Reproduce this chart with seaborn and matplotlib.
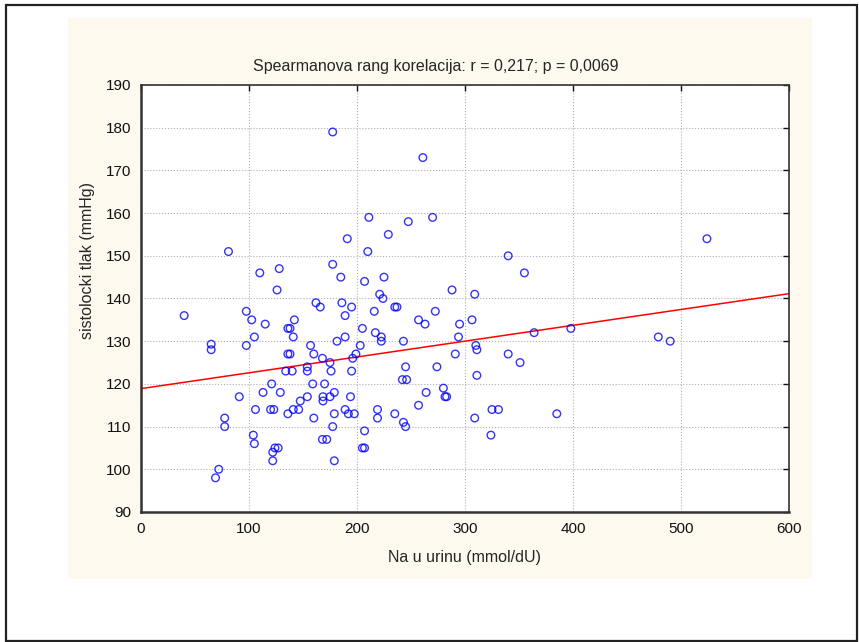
import numpy as np
import pandas as pd
import matplotlib
matplotlib.use('Agg')
import matplotlib.pyplot as plt
from matplotlib.patches import Rectangle
import seaborn as sns

# Na u urinu (mmol/dU)
na_urin = [40, 65, 65, 69, 72, 77.5, 77.5, 81, 91, 97.5, 102.5, 97.5, 105, 115,
           136, 138, 142, 141, 136, 138, 134, 140, 154, 154, 157, 160, 168, 175,
           176, 162, 166, 186, 189, 181.5, 189, 121, 113, 129, 106, 120, 123, 136,
           141, 146, 147.5, 154, 159, 170, 168.5, 168.5, 175, 179, 160, 179, 177.5,
           189, 104, 105, 122, 124, 127, 122, 168, 172, 179, 177.5, 191, 110, 128,
           177.5, 185, 126, 261, 211, 247.5, 270, 229, 210, 340, 355, 207, 225, 288,
           309, 221, 224, 195, 216, 235, 237, 272.5, 257, 263, 295, 306.5, 294, 205,
           217, 222.5, 222.5, 243, 203, 199, 196, 195, 245, 274, 242, 246, 291, 310,
           311, 311, 340, 351, 364, 264, 280, 281.5, 283, 257, 194, 192, 197.5, 219,
           219, 235, 243, 245, 207, 205, 207, 309, 325, 331, 324, 385, 398, 479, 490,
           524]
# sistolicki tlak (mmHg)
tlak = [136, 129.3, 128, 98, 100, 112, 110, 151, 117, 137, 135, 129, 131, 134,
        133, 133, 135, 131, 127, 127, 123, 123, 124, 123, 129, 127, 126, 125,
        123, 139, 138, 139, 136, 130, 131, 120, 118, 118, 114, 114, 114, 113,
        114, 114, 116, 117, 120, 120, 117, 116, 117, 118, 112, 113, 110,
        114, 108, 106, 104, 105, 105, 102, 107, 107, 102, 179, 154, 146, 147,
        148, 145, 142, 173, 159, 158, 159, 155, 151, 150, 146, 144, 145, 142,
        141, 141, 140, 138, 137, 138, 138, 137, 135, 134, 134, 135, 131, 133,
        132, 131, 130, 130, 129, 127, 126, 123, 124, 124, 121, 121, 127, 129,
        128, 122, 127, 125, 132, 118, 119, 117, 117, 115, 117, 113, 113, 114,
        112, 113, 111, 110, 109, 105, 105, 112, 114, 114, 108, 113, 133, 131, 130,
        154]

df = pd.DataFrame({'na': na_urin, 'tlak': tlak})

sns.set_style('white')
plt.rcParams['font.family'] = ['Liberation Sans', 'DejaVu Sans']

W, H = 859, 642
fig = plt.figure(figsize=(W / 100, H / 100), dpi=100)
fig.patch.set_facecolor('white')

# beige panel and outer frame
fig.patches.append(Rectangle((68 / W, 1 - 579 / H), (812 - 68) / W, (579 - 18) / H,
                             transform=fig.transFigure, facecolor='#fdf9ef',
                             edgecolor='none', zorder=-10))
fig.patches.append(Rectangle((6 / W, 1 - 641 / H), (857 - 6) / W, (641 - 5) / H,
                             transform=fig.transFigure, fill=False,
                             edgecolor='#222222', linewidth=1.6, zorder=-5))

ax = fig.add_axes([141 / W, 1 - 512 / H, (789 - 141) / W, (512 - 85) / H])
ax.set_facecolor('white')
ax.set_xlim(0, 600)
ax.set_ylim(90, 190)

sns.regplot(x='na', y='tlak', data=df, ax=ax, ci=None, truncate=False,
            scatter_kws={'facecolors': 'none', 'edgecolors': '#0000ff',
                         'linewidths': 1.0, 's': 30, 'zorder': 3},
            line_kws={'color': '#ff0000', 'linewidth': 1.1, 'zorder': 2})

ax.set_xlim(0, 600)
ax.set_ylim(90, 190)
ax.set_xticks(range(0, 601, 100))
ax.set_yticks(range(90, 191, 10))
ax.grid(True, linestyle=':', color='#b0b0b0', linewidth=0.8)
ax.set_axisbelow(True)

for side in ['left', 'bottom']:
    ax.spines[side].set_linewidth(1.8)
    ax.spines[side].set_color('#333333')
for side in ['top', 'right']:
    ax.spines[side].set_linewidth(1.2)
    ax.spines[side].set_color('#333333')
    ax.spines[side].set_visible(True)

ax.tick_params(direction='in', length=4, width=1, top=True, right=True,
               labelsize=11, colors='#111111', pad=7)

ax.set_title('Spearmanova rang korelacija: r = 0,217; p = 0,0069', fontsize=11.5,
             pad=10, x=0.455)
ax.set_xlabel('Na u urinu (mmol/dU)', fontsize=11.5, labelpad=10)
ax.set_ylabel('sistolocki tlak (mmHg)', fontsize=11.5, labelpad=8)
ax.yaxis.set_label_coords(-0.071, 0.588)

fig.savefig('out.png', dpi=100)
